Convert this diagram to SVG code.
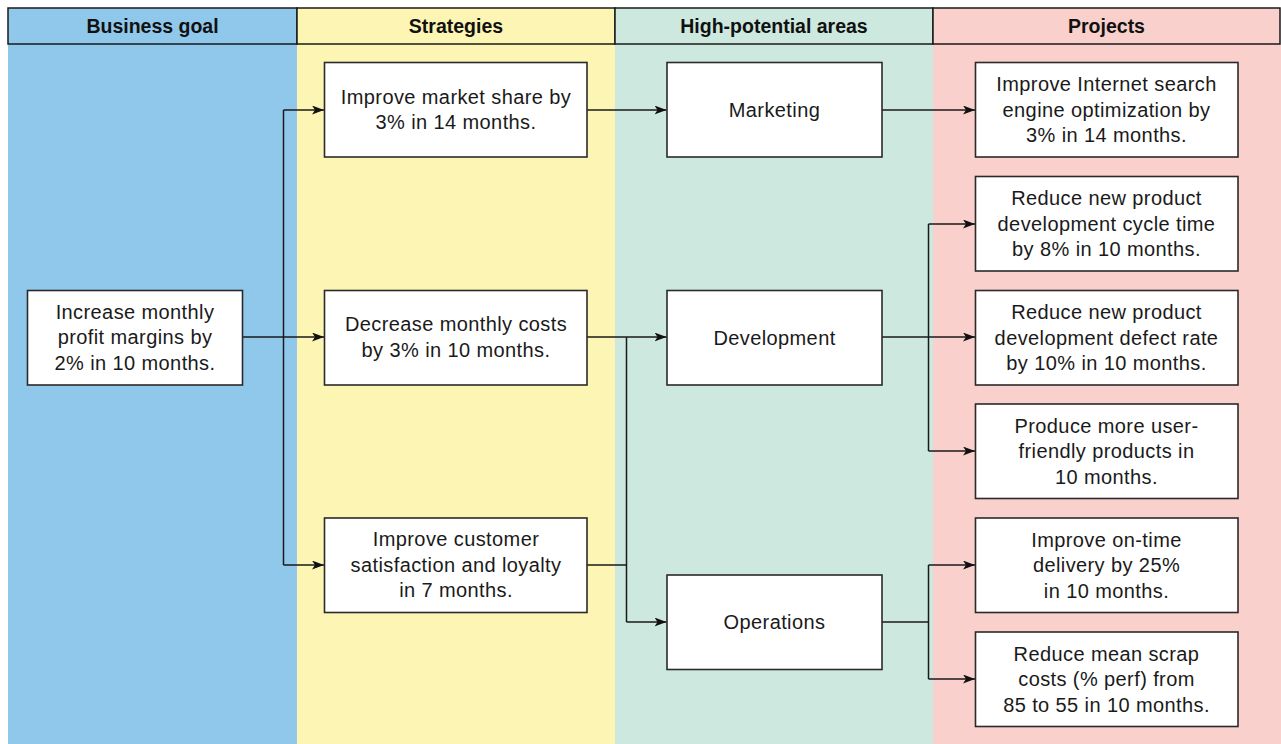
<svg xmlns="http://www.w3.org/2000/svg" width="1281" height="744" viewBox="0 0 1281 744">
<defs>
<style>
.hdr{font-family:"Liberation Sans",Arial,sans-serif;font-weight:bold;font-size:19.5px;fill:#111;text-anchor:middle}
.box{fill:#fff;stroke:#2a2a2a;stroke-width:1.6}
.t{font-family:"Liberation Sans",Arial,sans-serif;font-size:20px;fill:#1a1a1a;text-anchor:middle;letter-spacing:0.4px}
.ln{fill:none;stroke:#1a1a1a;stroke-width:1.5}
.ar{fill:none;stroke:#1a1a1a;stroke-width:1.5;marker-end:url(#ah)}
</style>
<marker id="ah" viewBox="0 0 12 9" refX="12" refY="4.5" markerWidth="12" markerHeight="9" markerUnits="userSpaceOnUse" orient="auto">
<path d="M0,0 L12,4.5 L0,9 L3,4.5 Z" fill="#111"/>
</marker>
</defs>
<rect x="0" y="0" width="1281" height="744" fill="#fff"/>
<g id="columns">
<rect x="8" y="44" width="289" height="700" fill="#90c8ec"/>
<rect x="297" y="44" width="318" height="700" fill="#fcf5b4"/>
<rect x="615" y="44" width="318" height="700" fill="#cde8de"/>
<rect x="933" y="44" width="348" height="700" fill="#f9d0cc"/>
<rect x="8" y="8" width="289" height="36" fill="#90c8ec" stroke="#1a1a1a" stroke-width="1.5"/>
<rect x="297" y="8" width="318" height="36" fill="#fcf5b4" stroke="#1a1a1a" stroke-width="1.5"/>
<rect x="615" y="8" width="318" height="36" fill="#cde8de" stroke="#1a1a1a" stroke-width="1.5"/>
<rect x="933" y="8" width="347" height="36" fill="#f9d0cc" stroke="#1a1a1a" stroke-width="1.5"/>
<text class="hdr" x="152.5" y="33">Business goal</text>
<text class="hdr" x="456" y="33">Strategies</text>
<text class="hdr" x="774" y="33">High-potential areas</text>
<text class="hdr" x="1106.5" y="33">Projects</text>
</g>
<g id="connectors">
<path class="ln" d="M243,337 H283.5"/>
<path class="ln" d="M283.5,110 V565"/>
<path class="ar" d="M283.5,110 H324"/>
<path class="ar" d="M283.5,337 H324"/>
<path class="ar" d="M283.5,565 H324"/>
<path class="ar" d="M587,110 H666.5"/>
<path class="ar" d="M587,337 H666.5"/>
<path class="ln" d="M626.5,337 V622"/>
<path class="ln" d="M587,565 H626.5"/>
<path class="ar" d="M626.5,622 H666.5"/>
<path class="ar" d="M882,110 H975"/>
<path class="ar" d="M882,337 H975"/>
<path class="ln" d="M928.5,224 V451"/>
<path class="ar" d="M928.5,224 H975"/>
<path class="ar" d="M928.5,451 H975"/>
<path class="ln" d="M882,622 H928.5"/>
<path class="ln" d="M928.5,565 V679"/>
<path class="ar" d="M928.5,565 H975"/>
<path class="ar" d="M928.5,679 H975"/>
</g>
<g id="goal">
<rect class="box" x="27.5" y="290.5" width="215" height="94.5"/>
<text class="t" x="135" y="318.5">Increase monthly</text>
<text class="t" x="135" y="344">profit margins by</text>
<text class="t" x="135" y="369.5">2% in 10 months.</text>
</g>
<g id="strategy1">
<rect class="box" x="324.5" y="62.5" width="262.5" height="94.5"/>
<text class="t" x="456" y="103.5">Improve market share by</text>
<text class="t" x="456" y="129">3% in 14 months.</text>
</g>
<g id="strategy2">
<rect class="box" x="324.5" y="290.5" width="262.5" height="94.5"/>
<text class="t" x="456" y="331">Decrease monthly costs</text>
<text class="t" x="456" y="356.5">by 3% in 10 months.</text>
</g>
<g id="strategy3">
<rect class="box" x="324.5" y="518" width="262.5" height="94.5"/>
<text class="t" x="456" y="546">Improve customer</text>
<text class="t" x="456" y="571.5">satisfaction and loyalty</text>
<text class="t" x="456" y="597">in 7 months.</text>
</g>
<g id="marketing">
<rect class="box" x="667" y="62.5" width="215" height="94.5"/>
<text class="t" x="774.5" y="117">Marketing</text>
</g>
<g id="development">
<rect class="box" x="667" y="290.5" width="215" height="94.5"/>
<text class="t" x="774.5" y="344.5">Development</text>
</g>
<g id="operations">
<rect class="box" x="667" y="575" width="215" height="94.5"/>
<text class="t" x="774.5" y="629">Operations</text>
</g>
<g id="project1">
<rect class="box" x="975.5" y="62.5" width="262.5" height="94.5"/>
<text class="t" x="1106.5" y="91">Improve Internet search</text>
<text class="t" x="1106.5" y="116.5">engine optimization by</text>
<text class="t" x="1106.5" y="142">3% in 14 months.</text>
</g>
<g id="project2">
<rect class="box" x="975.5" y="176.5" width="262.5" height="94.5"/>
<text class="t" x="1106.5" y="205">Reduce new product</text>
<text class="t" x="1106.5" y="230.5">development cycle time</text>
<text class="t" x="1106.5" y="256">by 8% in 10 months.</text>
</g>
<g id="project3">
<rect class="box" x="975.5" y="290.5" width="262.5" height="94.5"/>
<text class="t" x="1106.5" y="319">Reduce new product</text>
<text class="t" x="1106.5" y="344.5">development defect rate</text>
<text class="t" x="1106.5" y="370">by 10% in 10 months.</text>
</g>
<g id="project4">
<rect class="box" x="975.5" y="404" width="262.5" height="94.5"/>
<text class="t" x="1106.5" y="432.5">Produce more user-</text>
<text class="t" x="1106.5" y="458">friendly products in</text>
<text class="t" x="1106.5" y="483.5">10 months.</text>
</g>
<g id="project5">
<rect class="box" x="975.5" y="518" width="262.5" height="94.5"/>
<text class="t" x="1106.5" y="546.5">Improve on-time</text>
<text class="t" x="1106.5" y="572">delivery by 25%</text>
<text class="t" x="1106.5" y="597.5">in 10 months.</text>
</g>
<g id="project6">
<rect class="box" x="975.5" y="632" width="262.5" height="94.5"/>
<text class="t" x="1106.5" y="660.5">Reduce mean scrap</text>
<text class="t" x="1106.5" y="686">costs (% perf) from</text>
<text class="t" x="1106.5" y="711.5">85 to 55 in 10 months.</text>
</g>
</svg>
